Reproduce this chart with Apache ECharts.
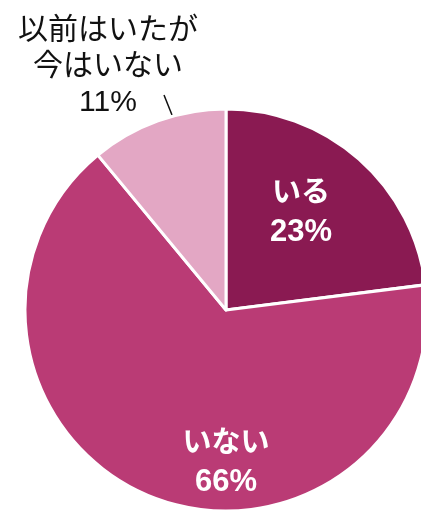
<!DOCTYPE html>
<html>
<head>
<meta charset="utf-8">
<script src="https://cdn.jsdelivr.net/npm/echarts@6/dist/echarts.min.js"></script>
<style>
  html, body { margin: 0; padding: 0; background: #fff; }
  #main { width: 421px; height: 514px; }
</style>
</head>
<body>
<div id="main"></div>
<script>
var categories = ["いる", "いない", "以前はいたが\n今はいない"];
var values = [23, 66, 11];
var colors = ["#8A1A52", "#BA3B75", "#E3A7C4"];

var myChart = echarts.init(document.getElementById("main"));

// ラベル位置（元の図に合わせる）
var labelPos = [
  { x: 301, y: 213 },
  { x: 226, y: 463 },
  { x: 108, y: 67, labelLinePoints: [[172, 115], [168, 105], [164, 95]] }
];

myChart.setOption({
  animation: false,
  series: [
    {
      type: "pie",
      center: [226, 310],
      radius: 201,
      startAngle: 90,
      clockwise: true,
      itemStyle: {
        borderColor: "#fff",
        borderWidth: 3
      },
      label: {
        show: true,
        position: "inside",
        overflow: "none",
        color: "#fff",
        fontWeight: "bold",
        fontFamily: "Liberation Sans, Noto Sans CJK JP",
        formatter: function(p) {
          return "{n|" + p.name + "}\n{v|" + p.value + "%}";
        },
        rich: {
          n: { fontSize: 29, lineHeight: 39, fontWeight: "bold", color: "#fff" },
          v: { fontSize: 31, lineHeight: 39, fontWeight: "bold", color: "#fff" }
        }
      },
      labelLayout: function(params) {
        var pos = labelPos[params.dataIndex];
        var res = { x: pos.x, y: pos.y, align: "center", verticalAlign: "middle" };
        if (pos.labelLinePoints) {
          res.labelLinePoints = pos.labelLinePoints;
        }
        return res;
      },
      data: categories.map(function(c, i) {
        var item = { name: c, value: values[i], itemStyle: { color: colors[i] } };
        if (i === 2) {
          item.label = {
            position: "outside",
            overflow: "none",
            formatter: function(p) {
              return p.name + "\n" + p.value + "%";
            },
            color: "#111",
            fontWeight: "normal",
            fontSize: 30,
            lineHeight: 36,
            rich: {}
          };
          item.labelLine = {
            show: true,
            lineStyle: { color: "#111", width: 1.5 }
          };
        }
        return item;
      })
    }
  ]
});
</script>
</body>
</html>
